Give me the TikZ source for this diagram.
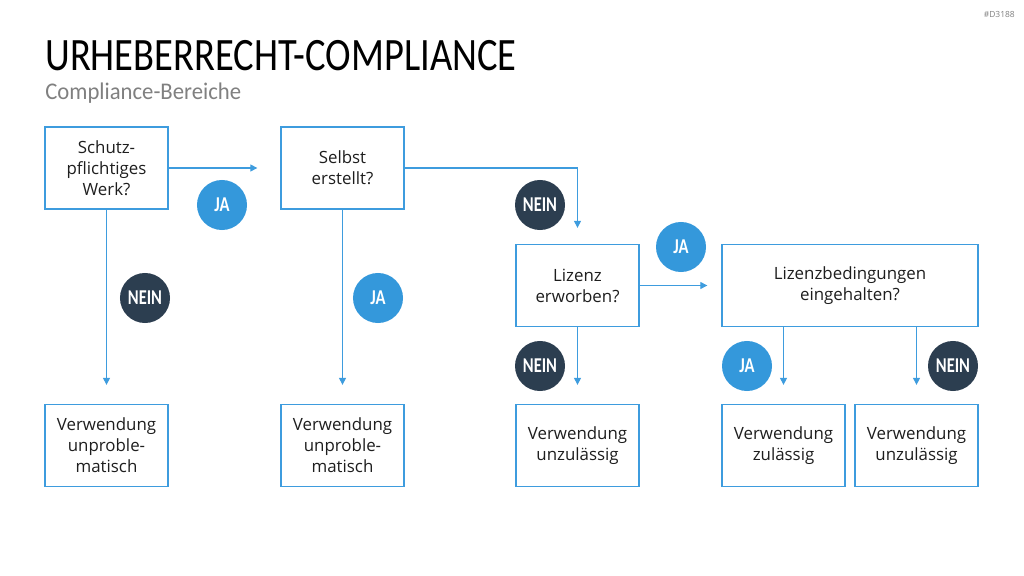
\documentclass[tikz,border=0pt]{standalone}
\usepackage{fontspec}
\setmainfont{Open Sans}
\newfontfamily\titlefont[FakeStretch=0.83]{Carlito}
\newfontfamily\subfont[FakeStretch=0.95]{Carlito}
\newfontfamily\badgefont[FakeStretch=0.78]{Carlito}
\usepackage{tikz}
\usepackage{xcolor}
\usetikzlibrary{positioning,arrows.meta}
\definecolor{ucblue}{RGB}{52, 152, 219}
\definecolor{ucline}{RGB}{62, 156, 222}
\definecolor{ucdark}{RGB}{44, 62, 80}
\definecolor{ucgray}{RGB}{128, 128, 128}
\definecolor{uctext}{RGB}{30, 30, 30}

\begin{document}
\begin{tikzpicture}[
    x=0.025cm, y=-0.025cm,
    every node/.style={align=center, text=uctext, font=\fontsize{12}{15}\selectfont},
    question/.style={rectangle, draw=ucline, line width=0.9pt, minimum width=3.075cm, minimum height=2.05cm, inner sep=2pt},
    result/.style={question},
    wide/.style={question, minimum width=6.4cm},
    yes/.style={circle, fill=ucblue, minimum size=1.25cm, inner sep=0pt, text=white, font=\badgefont\bfseries\fontsize{15}{15}\selectfont},
    no/.style={yes, fill=ucdark},
    arrow/.style={-{Triangle[length=5pt,width=5pt]}, line width=0.8pt, color=ucline}
]
\useasboundingbox (0,0) rectangle (1024,576);

% Titles
\node[anchor=west, inner sep=0pt, text=black, font=\titlefont\fontsize{33}{33}\selectfont] (title) at (45,56) {URHEBERRECHT-COMPLIANCE};
\node[anchor=west, inner sep=0pt, text=ucgray, font=\subfont\fontsize{17}{17}\selectfont] (subtitle) at (45,93) {Compliance-Bereiche};
\node[anchor=east, inner sep=0pt, text=ucgray, font=\fontsize{6}{6}\selectfont] (tag) at (1015,14) {\#D3188};

% Questions
\node[question] (q1) at (106.5,168) {Schutz-\\pflichtiges\\Werk?};
\node[question] (q2) at (342.5,168) {Selbst\\erstellt?};
\node[question] (q3) at (577.5,285.5) {Lizenz\\erworben?};
\node[wide] (q4) at (850,285.5) {Lizenzbedingungen\\eingehalten?};

% Results
\node[result] (r1) at (106.5,445.5) {Verwendung\\unproble-\\matisch};
\node[result] (r2) at (342.5,445.5) {Verwendung\\unproble-\\matisch};
\node[result] (r3) at (577.5,445.5) {Verwendung\\unzulässig};
\node[result] (r4) at (783.5,445.5) {Verwendung\\zulässig};
\node[result] (r5) at (916.5,445.5) {Verwendung\\unzulässig};

% Answers
\node[yes] (ja1) at (222,205) {JA};
\node[no] (nein1) at (145,298) {NEIN};
\node[yes] (ja2) at (378,298) {JA};
\node[no] (nein2) at (540,205) {NEIN};
\node[yes] (ja3) at (681,247) {JA};
\node[no] (nein3) at (540,366) {NEIN};
\node[yes] (ja4) at (747,366) {JA};
\node[no] (nein4) at (953,366) {NEIN};

% Flow
\draw[arrow, shorten >=0.575cm] (q1) -- (q2);
\draw[arrow, shorten >=0.475cm] (q1) -- (r1);
\draw[arrow, shorten >=0.475cm] (q2) -- (r2);
\draw[arrow, shorten >=0.4cm] (q2.east) -| (q3);
\draw[arrow, shorten >=0.35cm] (q3) -- (q4);
\draw[arrow, shorten >=0.475cm] (q3) -- (r3);
\draw[arrow, shorten >=0.475cm] (q4.south -| r4) -- (r4);
\draw[arrow, shorten >=0.475cm] (q4.south -| r5) -- (r5);

\end{tikzpicture}
\end{document}
